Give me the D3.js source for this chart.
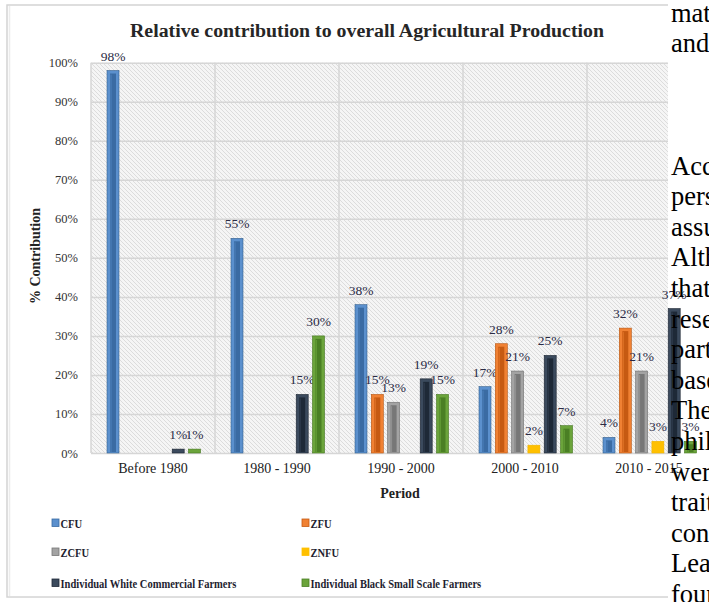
<!DOCTYPE html>
<html>
<head>
<meta charset="utf-8">
<script src="https://cdn.jsdelivr.net/npm/d3@7"></script>
<style>
  html, body { margin: 0; padding: 0; background: #fff; }
  svg { display: block; }
</style>
</head>
<body>
<svg id="chart" width="709" height="602"></svg>
<script>
// ---- data ----
const periods = ["Before 1980", "1980 - 1990", "1990 - 2000", "2000 - 2010", "2010 - 2015"];
const seriesNames = ["CFU", "ZFU", "ZCFU", "ZNFU", "Individual White Commercial Farmers", "Individual Black Small Scale Farmers"];
const CFU   = [98, 55, 38, 17, 4];
const ZFU   = [null, null, 15, 28, 32];
const ZCFU  = [null, null, 13, 21, 21];
const ZNFU  = [null, null, null, 2, 3];
const IWCF  = [1, 15, 19, 25, 37];
const IBSSF = [1, 30, 15, 7, 3];
const yTicks = [0, 10, 20, 30, 40, 50, 60, 70, 80, 90, 100];
const bodyLines = ["material", "and", "", "", "", "According", "perspective", "assumption", "Although", "that",
  "research", "particular", "based", "The", "philosophy", "were", "traits", "considered", "Leadership", "found"];

const seriesValues = [CFU, ZFU, ZCFU, ZNFU, IWCF, IBSSF];
const styles = [
  { outer: "#5b90cd", inner: "#3a6ba3", line: "#35618f" },
  { outer: "#f08133", inner: "#c65a12", line: "#b85510" },
  { outer: "#a3a3a3", inner: "#777777", line: "#6f6f6f" },
  { outer: "#ffc000", inner: "#ffc000", line: "#f0b400" },
  { outer: "#3b4a5d", inner: "#1e2937", line: "#1a2330" },
  { outer: "#6ba43b", inner: "#4a7f24", line: "#44761f" }
];

const svg = d3.select("#chart");
const serif = "'Liberation Serif', 'Times New Roman', serif";

// defs
const defs = svg.append("defs");
const pat = defs.append("pattern").attr("id", "hatch").attr("patternUnits", "userSpaceOnUse")
  .attr("width", 4).attr("height", 4);
pat.append("rect").attr("width", 4).attr("height", 4).attr("fill", "#f5f5f5");
pat.append("path").attr("d", "M-1,-1 L5,5 M-1,3 L1,5 M3,-1 L5,1").attr("stroke", "#dcdcdc").attr("stroke-width", 1);
defs.append("clipPath").attr("id", "bgclip").append("rect").attr("x", 0).attr("y", 0).attr("width", 668).attr("height", 602);

// layout
const plot = { left: 91, right: 711, top: 62.7, bottom: 453 };
const x0 = d3.scaleBand().domain(periods).range([plot.left, plot.right]).padding(0);
const x1 = d3.scaleBand().domain(d3.range(seriesNames.length)).range([16, 109.5]).paddingInner(0.264).paddingOuter(0);
const y = d3.scaleLinear().domain([0, 100]).range([plot.bottom, plot.top]);

// background (clipped)
const bg = svg.append("g").attr("clip-path", "url(#bgclip)");
bg.append("rect").attr("x", 7).attr("y", 5).attr("width", 760).attr("height", 592)
  .attr("fill", "#fff").attr("stroke", "#d4d4d4").attr("stroke-width", 1.5);
bg.append("line").attr("x1", 9.5).attr("x2", 9.5).attr("y1", 6).attr("y2", 596).attr("stroke", "#ececec").attr("stroke-width", 1.5);
bg.append("rect").attr("x", plot.left).attr("y", plot.top).attr("width", plot.right - plot.left)
  .attr("height", plot.bottom - plot.top).attr("fill", "url(#hatch)");

// gridlines
const gridY = d3.axisLeft(y).tickValues(yTicks).tickSize(-(plot.right - plot.left)).tickFormat("");
bg.append("g").attr("transform", `translate(${plot.left},0)`).call(gridY)
  .call(g => g.select(".domain").remove())
  .call(g => g.selectAll("line").attr("stroke", "#d6d6d6").attr("stroke-width", 1.5));
bg.append("g").selectAll("line").data(periods.slice(1)).join("line")
  .attr("x1", d => x0(d)).attr("x2", d => x0(d)).attr("y1", plot.top).attr("y2", plot.bottom)
  .attr("stroke", "#d6d6d6").attr("stroke-width", 1.5);
bg.append("line").attr("x1", plot.left).attr("x2", plot.left).attr("y1", plot.top).attr("y2", plot.bottom)
  .attr("stroke", "#d6d6d6").attr("stroke-width", 1.5);

// y axis labels
const yAxis = d3.axisLeft(y).tickValues(yTicks).tickSize(0).tickPadding(13).tickFormat(d => d + "%");
svg.append("g").attr("transform", `translate(${plot.left},0)`).call(yAxis)
  .call(g => g.select(".domain").remove())
  .call(g => g.selectAll("text").attr("font-family", serif).attr("font-size", 12.5).attr("fill", "#333"));

// x axis labels
const xAxis = d3.axisBottom(x0).tickSize(0).tickPadding(10);
svg.append("g").attr("transform", `translate(0,${plot.bottom})`).call(xAxis)
  .call(g => g.select(".domain").remove())
  .call(g => g.selectAll("text").attr("font-family", serif).attr("font-size", 14).attr("fill", "#222"));

// bars
const barData = [];
seriesValues.forEach((vals, si) => {
  vals.forEach((v, pi) => { if (v !== null) barData.push({ si, period: periods[pi], v }); });
});
const bw = x1.bandwidth();
const bars = svg.append("g").selectAll("g").data(barData).join("g")
  .attr("transform", d => `translate(${x0(d.period) + x1(d.si)},0)`);
bars.append("rect")
  .attr("x", 0).attr("y", d => y(d.v)).attr("width", bw).attr("height", d => y(0) - y(d.v))
  .attr("fill", d => styles[d.si].outer).attr("stroke", d => styles[d.si].line).attr("stroke-width", 0.6);
bars.filter(d => d.si !== 3 && (y(0) - y(d.v)) > 6).append("rect")
  .attr("x", 3).attr("y", d => y(d.v) + 3).attr("width", bw - 6).attr("height", d => Math.max(0, y(0) - y(d.v) - 4))
  .attr("fill", d => styles[d.si].inner);
bars.filter(d => d.si !== 3 && (y(0) - y(d.v)) > 6).append("line")
  .attr("x1", 4).attr("x2", 4).attr("y1", d => y(d.v) + 4).attr("y2", y(0) - 1)
  .attr("stroke", d => styles[d.si].outer).attr("stroke-width", 0.8).attr("opacity", 0.8);

// data labels
bars.append("text")
  .attr("x", bw / 2).attr("y", d => y(d.v) - 10)
  .attr("text-anchor", "middle").attr("font-family", serif).attr("font-size", 13.5)
  .attr("fill", "#2b2b45").text(d => d.v + "%");

// title
svg.append("text").attr("x", 367).attr("y", 37).attr("text-anchor", "middle")
  .attr("font-family", serif).attr("font-weight", "bold").attr("font-size", 18)
  .attr("fill", "#262626").attr("textLength", 474).attr("lengthAdjust", "spacingAndGlyphs")
  .text("Relative contribution to overall Agricultural Production");

// axis titles
svg.append("text").attr("transform", "translate(40,256) rotate(-90)").attr("text-anchor", "middle")
  .attr("font-family", serif).attr("font-weight", "bold").attr("font-size", 14).attr("fill", "#222")
  .text("% Contribution");
svg.append("text").attr("x", 400).attr("y", 498).attr("text-anchor", "middle")
  .attr("font-family", serif).attr("font-weight", "bold").attr("font-size", 14).attr("fill", "#222")
  .text("Period");

// legend
const legendPos = [[52, 523], [302, 523], [52, 552], [302, 552], [52, 583], [302, 583]];
const leg = svg.append("g").selectAll("g").data(seriesNames).join("g")
  .attr("transform", (d, i) => `translate(${legendPos[i][0]},${legendPos[i][1]})`);
leg.append("rect").attr("x", 0).attr("y", -4).attr("width", 7).attr("height", 7.5)
  .attr("fill", (d, i) => styles[i].outer).attr("stroke", (d, i) => styles[i].inner).attr("stroke-width", 0.8);
leg.append("text").attr("transform", "translate(8.5,0) scale(0.78,1)").attr("dy", "0.35em")
  .attr("font-family", serif).attr("font-weight", "bold").attr("font-size", 13.5).attr("fill", "#1e1e30")
  .text(d => d);

// overlapping document body text
svg.append("g").selectAll("text").data(bodyLines).join("text")
  .attr("x", 671).attr("y", (d, i) => 21.5 + i * 30.6)
  .attr("font-family", serif).attr("font-size", 26.5).attr("fill", "#000")
  .text(d => d);
</script>
</body>
</html>
